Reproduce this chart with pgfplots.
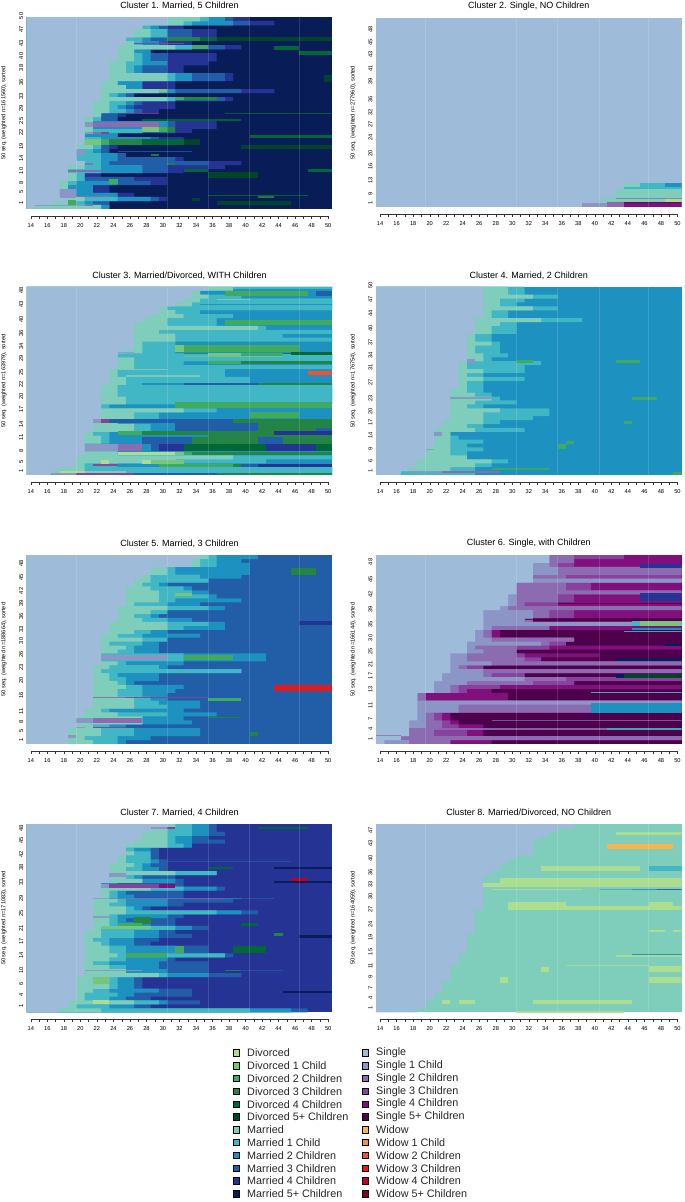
\documentclass[border=0pt]{standalone}
\usepackage{fontspec}
\setmainfont{Liberation Sans}
\usepackage{pgfplots}
\usepackage{pgfplotstable}
\pgfplotsset{compat=1.18}
\definecolor{cS}{HTML}{9EBCDA}\definecolor{cS1}{HTML}{8C96C6}\definecolor{cS2}{HTML}{8C6BB1}\definecolor{cS3}{HTML}{88419D}\definecolor{cS4}{HTML}{810F7C}\definecolor{cS5}{HTML}{4D004B}
\definecolor{cM}{HTML}{7FCDBB}\definecolor{cM1}{HTML}{41B6C4}\definecolor{cM2}{HTML}{1D91C0}\definecolor{cM3}{HTML}{225EA8}\definecolor{cM4}{HTML}{253494}\definecolor{cM5}{HTML}{081D58}
\definecolor{cD}{HTML}{ADDD8E}\definecolor{cD1}{HTML}{78C679}\definecolor{cD2}{HTML}{41AB5D}\definecolor{cD3}{HTML}{238443}\definecolor{cD4}{HTML}{006837}\definecolor{cD5}{HTML}{004529}
\definecolor{cW}{HTML}{FEB24C}\definecolor{cW1}{HTML}{FD8D3C}\definecolor{cW2}{HTML}{FC4E2A}\definecolor{cW3}{HTML}{E31A1C}\definecolor{cW4}{HTML}{BD0026}\definecolor{cW5}{HTML}{800026}
\newcommand\ticfont{\fontsize{5.7}{6}\selectfont}
\pgfplotstableread{
r S M M1 M2 M3 M4
48 30 34 35 37 38 40
47 30 32 33 38 40 43
46 27 27 28 29 30 32
45 26 28 30 30 33 36
44 26 28 30 30 33 36
43 25 25 27 28 30 30
42 25 26 27 29 30 33
41 24 31 33 33 37 39
40 24 26 26 28 28 28
39 24 26 27 28 30 36
38 24 26 27 28 30 36
37 23 25 27 30 30 35
36 23 25 26 27 30 32
35 23 25 26 27 30 32
34 23 30 31 33 37 38
33 23 30 31 33 37 38
32 22 24 24 27 27 31
31 22 25 25 27 27 31
30 22 29 30 31 39 43
29 22 23 24 25 26 26
28 22 30 31 31 37 38
27 21 23 25 26 27 31
26 21 23 24 25 26 31
25 21 23 25 26 27 29
24 21 22 22 22 24 25
23 20 21 22 22 24 24
22 20 21 21 30 31 36
21 20 21 21 30 31 36
20 20 21 27 27 31 33
19 20 20 20 24 24 24
18 20 20 22 28 29 32
17 20 20 20 20 20 20
16 19 21 22 22 23 24
15 19 19 21 22 23 23
14 19 19 22 24 25 25
13 19 19 22 24 31 32
12 20 20 22 23 35 39
11 18 20 22 27 30 37
10 18 18 22 27 30 32
9 18 19 20 20 20 22
8 18 19 20 20 26 30
7 17 18 19 24 28 30
6 17 18 18 21 21 23
5 17 17 17 21 21 23
4 17 17 17 24 24 26
3 18 20 24 28 29 30
2 16 18 20 21 23 23
1 14 22 22 23 23 23
}\tA
\pgfplotstableread{
r S M M1
48 35 38 50
47 33 34 34
46 33 35 39
45 32 34 50
44 31 33 50
43 29 30 50
42 29 31 34
41 28 32 38
40 27 30 36
39 26 30 36
38 26 41 42
37 26 29 50
36 26 31 44
35 26 31 50
34 26 27 31
33 26 27 31
32 25 27 31
31 24 24 50
30 24 26 50
29 24 26 32
28 24 26 50
27 23 24 37
26 23 24 37
25 23 25 40
24 23 25 40
23 22 24 50
22 22 24 50
21 22 24 50
20 22 25 50
19 22 25 50
18 22 22 23
17 22 32 36
16 22 26 29
15 22 26 29
14 21 24 24
13 21 26 28
12 21 26 28
11 20 21 23
10 20 22 23
9 20 22 23
8 20 20 20
7 20 20 20
6 20 24 24
5 19 38 50
4 19 31 42
3 19 20 24
2 17 20 50
1 16 25 50
}\tC
\pgfplotstableread{
r S M M1
48 26 29 31
47 26 29 31
46 26 32 35
45 26 28 31
44 26 28 30
43 26 32 35
42 26 27 29
41 26 27 29
40 25 33 38
39 25 28 30
38 25 27 30
37 25 27 30
36 24 25 27
35 24 25 27
34 24 27 28
33 24 25 28
32 24 25 28
31 24 26 29
30 24 26 27
29 23 24 33
28 23 24 31
27 23 26 31
26 23 24 26
25 23 26 31
24 23 24 26
23 23 24 26
22 22 24 26
21 22 25 27
20 22 27 28
19 22 25 30
18 22 24 26
17 22 28 34
16 22 26 34
15 22 26 32
14 21 26 28
13 21 24 26
12 20 25 31
11 20 22 22
10 20 22 23
9 20 22 26
8 20 22 24
7 19 22 26
6 19 22 24
5 19 24 24
4 18 27 29
3 18 25 27
2 17 22 25
1 16 16 25
}\tD
\pgfplotstableread{
r S M M1 M2
48 34 35 36 41
47 33 34 36 39
46 33 34 36 40
45 28 30 31 40
44 28 30 31 40
43 27 28 34 39
42 26 28 35 35
41 26 27 29 30
40 25 28 32 33
39 25 29 33 35
38 25 29 35 36
37 25 29 31 39
36 25 26 30 34
35 24 30 35 37
34 24 28 30 30
33 24 26 28 29
32 24 27 30 33
31 23 30 35 37
30 23 30 32 37
29 23 26 28 30
28 22 24 27 34
27 22 27 30 30
26 22 23 27 29
25 22 25 26 29
24 22 24 26 29
23 22 22 32 42
22 22 22 32 42
21 22 24 25 32
20 21 23 29 30
19 21 22 39 39
18 21 23 24 29
17 21 23 25 29
16 21 24 25 26
15 21 25 27 32
14 21 24 27 31
13 21 24 27 30
12 21 26 28 30
11 21 26 29 34
10 21 26 30 34
9 20 22 23 32
8 20 24 30 36
7 19 27 27 32
6 19 27 27 33
5 19 21 23 25
4 18 22 26 34
3 18 22 26 34
2 18 20 24 28
1 18 21 24 25
}\tE
\pgfplotstableread{
r S S1 S2 S3 S4
48 34 34 37 43 50
47 34 34 37 37 50
46 32 34 35 37 50
45 32 35 50 50 50
44 32 35 50 50 50
43 32 32 36 50 50
42 32 50 50 50 50
41 30 30 36 39 50
40 30 30 36 39 50
39 30 30 50 50 50
38 29 30 35 37 50
37 29 30 35 37 50
36 29 30 31 35 50
35 28 29 50 50 50
34 26 32 34 37 50
33 26 32 34 37 50
32 26 31 32 32 32
31 26 50 50 50 50
30 26 27 34 34 50
29 25 26 27 27 28
28 25 26 27 27 28
27 25 27 37 37 37
26 24 33 34 36 36
25 24 25 30 34 50
24 24 26 30 30 30
23 22 24 30 31 40
22 22 24 31 33 33
21 22 27 50 50 50
20 22 23 24 26 26
19 22 26 50 50 50
18 21 26 27 31 31
17 21 31 36 50 50
16 20 24 32 37 37
15 20 22 23 28 50
14 20 22 23 24 27
13 18 18 19 19 29
12 18 18 19 19 29
11 18 50 50 50 50
10 18 23 50 50 50
9 18 23 50 50 50
8 18 19 20 21 22
7 18 19 20 21 22
6 17 19 21 22 23
5 17 19 21 23 26
4 17 17 20 24 26
3 17 17 20 24 26
2 16 16 50 50 50
1 14 17 22 22 27
}\tF
\pgfplotstableread{
r S M M1 M2 M3
48 30 31 33 35 36
47 28 30 33 35 36
46 27 30 33 35 37
45 27 30 31 33 35
44 26 30 31 33 37
43 25 30 32 33 33
42 25 25 26 28 29
41 25 26 28 28 29
40 24 25 28 28 29
39 24 25 28 29 30
38 23 26 27 28 30
37 23 25 27 29 30
36 23 31 36 36 36
35 23 25 26 27 31
34 23 27 27 31 32
33 22 22 22 24 32
32 22 28 32 36 37
31 22 23 24 25 32
30 22 23 24 26 32
29 21 24 25 30 38
28 21 23 25 30 32
27 21 25 26 27 28
26 21 25 36 39 41
25 21 23 24 30 32
24 21 23 24 25 31
23 21 23 24 28 31
22 21 22 31 33 35
21 20 22 26 29 31
20 20 22 26 29 33
19 20 21 23 26 29
18 20 22 23 26 28
17 20 23 25 31 35
16 20 23 25 31 35
15 20 24 37 37 38
14 20 23 25 30 31
13 20 21 23 29 35
12 20 23 25 29 35
11 20 25 25 30 35
10 20 29 30 35 39
9 19 23 24 26 27
8 19 23 24 26 27
7 19 23 24 26 27
6 19 21 23 29 33
5 19 20 24 26 33
4 19 20 23 25 28
3 18 26 29 30 34
2 18 19 23 26 28
1 17 22 40 45 47
}\tG
\pgfplotstableread{
r S
48 37
47 35
46 34
45 33
44 32
43 32
42 32
41 32
40 30
39 29
38 28
37 28
36 27
35 26
34 26
33 26
32 26
31 26
30 26
29 26
28 26
27 26
26 25
25 25
24 25
23 25
22 25
21 25
20 24
19 24
18 24
17 24
16 24
15 23
14 23
13 23
12 22
11 22
10 22
9 22
8 21
7 21
6 21
5 20
4 20
3 19
2 19
1 18
}\tH
\newcommand\bars[2]{\pgfplotsinvokeforeach{#2}{\addplot[forget plot,xbar,bar shift=0pt,bar width=\barw,draw=none,fill=c##1] table[x expr=\thisrow{##1}+0.5,y expr=\pbot-(\thisrow{r}-0.5)*\rowh]{#1};}}
\newcommand\seg[5]{\pgfmathsetmacro\segop{min(1,0.45+#5*0.3)}\edef\segdo{\noexpand\addplot[forget plot,no marks,line cap=butt,line width=#5pt,color=c#1,opacity=\segop] coordinates {(#2,#4)(#3,#4)};}\segdo}
\newcommand\seams{\addplot[forget plot,no marks,white,opacity=.14,line width=.6pt] coordinates {(19.5,\ptop)(19.5,\pbot)};
\addplot[forget plot,no marks,white,opacity=.14,line width=.6pt] coordinates {(30.5,\ptop)(30.5,\pbot)};
\addplot[forget plot,no marks,white,opacity=.14,line width=.6pt] coordinates {(35.5,\ptop)(35.5,\pbot)};
\addplot[forget plot,no marks,white,opacity=.14,line width=.6pt] coordinates {(40.5,\ptop)(40.5,\pbot)};
\addplot[forget plot,no marks,white,opacity=.14,line width=.6pt] coordinates {(46.5,\ptop)(46.5,\pbot)};}
\pgfplotsset{seq/.style={scale only axis,width=305.6pt,anchor=south west,
 xmin=13.5,xmax=50.5,y dir=reverse,
 axis line style={draw=none},
 xtick=\empty,ytick pos=left,
 major tick length=3pt,
 y tick style={draw=none},
 yticklabel style={font=\ticfont,rotate=90,anchor=south,xshift=3pt},
 title style={font=\fontsize{9}{10}\selectfont,yshift=-2pt},
 every axis y label/.style={at={(axis description cs:-0.0745,0.5)},rotate=90,anchor=center,font=\ticfont},
}}
% the age scale under a panel: #1 left edge, #2 bottom of the panel
\newcommand\agescale[2]{\pgfmathsetmacro\scy{#2-7}\edef\scdo{\noexpand\begin{axis}[scale only axis,width=305.6pt,height=1pt,anchor=south west,at={(#1pt,\scy pt)},
 xmin=13.5,xmax=50.5,ymin=0,ymax=1,hide y axis,axis x line*=bottom,x axis line style={draw=none},clip=false,
 xtick={14,16,...,50},minor xtick={15,17,...,49},tick align=outside,
 major tick length=3.2pt,minor tick length=3.2pt,
 x tick style={black!80,line width=.35pt},minor x tick style={black!80,line width=.35pt},
 xticklabel style={font=\noexpand\ticfont},xticklabel shift=0.6pt,
 /pgf/number format/assume math mode=true]}\scdo
\addplot[forget plot,no marks,black!80,line width=.35pt] coordinates {(14,0)(50,0)};
\end{axis}}
\newcommand\leg[4]{\fill[c#3,draw=black,line width=.6pt] (#1pt,{1202pt-(1053+#2*12.8)*1pt-3.2pt}) rectangle ++(6.4pt,6.4pt);
\node[anchor=west,inner sep=0,font=\fontsize{10.8}{12}\selectfont,text=black!85] at ({#1pt+14pt},{1202pt-(1053+#2*12.8)*1pt}) {#4};}
\begin{document}
\begin{tikzpicture}
\path[use as bounding box] (0,0) rectangle (685pt,1202pt);
% ---------- Cluster 1
\def\ptop{52}\def\pbot{627}\def\rowh{11.98}\def\barw{4.1pt}
\begin{axis}[seq,at={(26.7pt,993pt)},height=191.7pt,ymin=52,ymax=627,axis background/.style={fill=cM5},
 title={Cluster 1. Married, 5 Children},ylabel={50 seq. (weighted n=161560), sorted},
 ytick={57,98,140,177,213,256,298,335,372,407,448,484,522,557,585,617},
 yticklabels={50,47,43,40,38,36,33,29,25,22,19,14,10,8,5,1}]
\bars{\tA}{M4,M3,M2,M1,M,S}
\seg{D3}{30.5}{34.5}{118}{4}\seg{D4}{34.5}{36.5}{118}{4}\seg{D5}{36.5}{50.5}{118}{4}
\seg{S3}{26.5}{32.5}{131}{1.5}
\seg{D2}{33.5}{35.5}{142}{4}\seg{D4}{43.5}{46.5}{145}{4}\seg{D4}{46.5}{50.5}{160}{4}
\seg{D5}{49.5}{50.5}{236}{6.5}\seg{D1}{29.5}{30.5}{271}{3.5}
\seg{D2}{31.5}{32.5}{296}{3}\seg{D3}{32.5}{36.5}{296}{3}
\seg{S3}{25.5}{29.5}{341}{1}\seg{D4}{37.5}{50.5}{341}{1}\seg{D4}{27.5}{39.5}{360}{1.5}
\seg{S1}{20.5}{21.5}{373}{5.5}\seg{S2}{21.5}{29.5}{373}{5.5}
\seg{D1}{27.5}{29.5}{388}{4.5}\seg{D2}{29.5}{30.5}{388}{4.5}\seg{D3}{30.5}{31.5}{388}{4.5}
\seg{S1}{20.5}{21.5}{400}{2}\seg{S2}{21.5}{22.5}{400}{2}\seg{S3}{22.5}{23.5}{400}{2}
\seg{D4}{40.5}{50.5}{409}{3}
\seg{D1}{20.5}{22.5}{425}{6}\seg{D2}{22.5}{23.5}{425}{6}\seg{D3}{23.5}{27.5}{425}{6}\seg{D4}{27.5}{32.5}{425}{6}\seg{D5}{32.5}{34.5}{425}{6}
\seg{D5}{39.5}{50.5}{441}{4.5}
\seg{S1}{19.5}{20.5}{457}{5}\seg{M3}{24.5}{33.5}{456}{1}\seg{D3}{28.5}{29.5}{465}{1.5}
\seg{S2}{20.5}{21.5}{492}{1.5}\seg{D3}{30.5}{31.5}{492}{1.5}
\seg{S2}{18.5}{22.5}{512}{2}\seg{D4}{32.5}{35.5}{512}{2.5}\seg{D4}{47.5}{50.5}{512}{2.5}
\seg{D5}{35.5}{41.5}{525}{5.5}\seg{D2}{23.5}{24.5}{544}{5}
\seg{S1}{17.5}{19.5}{580}{9}\seg{D4}{35.5}{47.5}{587}{1.5}\seg{D3}{41.5}{43.5}{591}{1.5}
\seg{S2}{19.5}{23.5}{590}{1.5}\seg{D5}{33.5}{34.5}{599}{3}
\seg{D2}{18.5}{19.5}{607}{4.5}\seg{D5}{36.5}{45.5}{608}{4}
\seg{S1}{14.5}{20.5}{617}{1.5}\seg{S2}{20.5}{21.5}{617}{1.5}
\seams
\end{axis}
\agescale{26.7}{993}
% ---------- Cluster 2
\def\ptop{-336}\def\pbot{230}
\begin{axis}[seq,at={(376pt,995pt)},height=188.7pt,ymin=-336,ymax=230,axis background/.style={fill=cS},
 title={Cluster 2. Single, NO Children},ylabel={50 seq. (weighted n=277960), sorted},
 ytick={-293,-255,-218,-177,-138,-83,-45,-8,30,78,118,160,200,227},
 yticklabels={48,45,43,41,39,36,32,27,24,20,16,13,9,1}]
\seg{M}{43.5}{45.5}{164}{4}\seg{M1}{45.5}{48.5}{164}{4}\seg{M2}{48.5}{50.5}{164}{4}
\seg{M1}{43.5}{50.5}{174}{2.5}\seg{M}{42.5}{50.5}{187}{8}
\seg{M}{41.5}{50.5}{200}{2}\seg{S2}{42.5}{50.5}{204}{1}
\seg{M}{40.5}{48.5}{210}{3}\seg{D}{48.5}{50.5}{211}{3.5}
\seg{S3}{41.5}{43.5}{217}{1}\seg{S5}{43.5}{50.5}{217}{1.5}
\seg{S1}{38.5}{41.5}{223}{4}\seg{S2}{41.5}{43.5}{223}{4}\seg{S4}{43.5}{50.5}{223}{4}
\seams
\end{axis}
\agescale{376}{995}
% ---------- Cluster 3
\def\ptop{65}\def\pbot{630}\def\rowh{11.77}\def\barw{4pt}
\begin{axis}[seq,at={(26.7pt,727pt)},height=188.3pt,ymin=65,ymax=630,axis background/.style={fill=cM2},
 title={Cluster 3. Married/Divorced, WITH Children},ylabel={50 seq. (weighted n=163979), sorted},
 ytick={85,128,172,213,252,290,330,368,403,441,488,527,568,600,627},
 yticklabels={48,43,40,36,34,29,25,22,20,17,14,11,8,5,1}]
\bars{\tC}{M1,M,S}
\seg{M2}{38.5}{50.5}{75}{1.5}
\seg{D2}{37.5}{47.5}{86}{5}\seg{M3}{48.5}{50.5}{86}{5}\seg{M}{36.5}{40.5}{103}{1.5}
\seg{M2}{34.5}{50.5}{119}{1.5}\seg{D2}{37.5}{50.5}{172}{5.5}
\seg{D1}{31.5}{32.5}{250}{7}\seg{D2}{32.5}{46.5}{250}{7}
\seg{S1}{24.5}{26.5}{262}{1}\seg{D3}{32.5}{38.5}{264}{1}\seg{D4}{38.5}{46.5}{264}{1}
\seg{D1}{35.5}{39.5}{269}{3.5}\seg{D2}{39.5}{44.5}{269}{3}\seg{D4}{45.5}{50.5}{265}{3.5}\seg{D1}{32.5}{44.5}{273}{1}
\seg{D2}{35.5}{39.5}{292}{3}\seg{D3}{39.5}{50.5}{292}{3}
\seg{W2}{47.5}{50.5}{324}{4}\seg{M}{24.5}{30.5}{314}{1.5}\seg{M}{25.5}{34.5}{333}{1.5}
\seg{M2}{27.5}{32.5}{357}{2.5}\seg{M3}{32.5}{41.5}{357}{2.5}\seg{D3}{41.5}{50.5}{357}{2.5}
\seg{D2}{31.5}{50.5}{420}{5.5}\seg{D2}{40.5}{46.5}{451}{6}
\seg{D3}{38.5}{50.5}{467}{4}\seg{S1}{21.5}{22.5}{467}{4}\seg{S3}{22.5}{23.5}{467}{4}\seg{M3}{23.5}{38.5}{467}{4}
\seg{M3}{31.5}{41.5}{487}{8}\seg{D3}{41.5}{50.5}{487}{8}\seg{M3}{48.5}{50.5}{492}{3}
\seg{D2}{24.5}{27.5}{505}{4}\seg{D3}{27.5}{43.5}{505}{4}\seg{M4}{43.5}{50.5}{505}{4}
\seg{D3}{35.5}{50.5}{513}{1.5}
\seg{M3}{27.5}{33.5}{527}{7}\seg{D3}{33.5}{41.5}{527}{7}\seg{M3}{41.5}{44.5}{527}{7}\seg{D3}{44.5}{50.5}{527}{7}
\seg{S1}{20.5}{24.5}{547}{6.7}\seg{S2}{24.5}{27.5}{547}{6.7}\seg{M2}{27.5}{28.5}{547}{6.7}\seg{M3}{28.5}{29.5}{547}{6.7}\seg{M4}{29.5}{32.5}{547}{6.7}\seg{D4}{32.5}{42.5}{547}{6.7}\seg{M4}{42.5}{48.5}{547}{6.7}\seg{D4}{48.5}{50.5}{547}{6.7}
\seg{D}{24.5}{31.5}{567}{3}\seg{D1}{31.5}{32.5}{567}{3}\seg{D2}{32.5}{33.5}{567}{3}\seg{D3}{33.5}{50.5}{567}{3}
\seg{D}{22.5}{23.5}{590}{4}\seg{D}{27.5}{28.5}{590}{4}\seg{D1}{28.5}{32.5}{590}{4}
\seg{S3}{21.5}{24.5}{600}{1.5}\seg{D2}{29.5}{38.5}{602}{3.5}\seg{D3}{38.5}{39.5}{602}{3.5}\seg{M3}{39.5}{41.5}{602}{3.5}\seg{M4}{41.5}{50.5}{602}{3.5}
\seg{D}{17.5}{20.5}{620}{2}
\seg{S1}{16.5}{19.5}{626}{2}\seg{S3}{19.5}{26.5}{626}{2}\seg{M3}{26.5}{36.5}{626}{2}\seg{D3}{36.5}{50.5}{626}{2}
\seams
\end{axis}
\agescale{26.7}{727}
% ---------- Cluster 4
\begin{axis}[seq,at={(376pt,727pt)},height=188.3pt,ymin=65,ymax=630,axis background/.style={fill=cM2},
 title={Cluster 4. Married, 2 Children},ylabel={50 seq. (weighted n=176754), sorted},
 ytick={70,112,153,200,240,279,315,360,408,447,481,520,562,598,627},
 yticklabels={50,47,44,40,37,34,31,27,23,20,17,14,9,6,1}]
\bars{\tD}{M1,M,S}
\seg{S1}{24.5}{25.5}{288}{3.5}\seg{D2}{30.5}{32.5}{289}{3.5}\seg{D2}{42.5}{45.5}{289}{3.5}
\seg{S1}{22.5}{27.5}{400}{2}\seg{D2}{44.5}{47.5}{400}{3.5}\seg{D2}{43.5}{44.5}{473}{3}
\seg{S1}{20.5}{21.5}{507}{3.5}\seg{D2}{36.5}{37.5}{533}{3.5}\seg{D2}{35.5}{36.5}{545}{4.5}
\seg{S1}{19.5}{20.5}{553}{1}\seg{D2}{27.5}{34.5}{612}{1.5}
\seg{S1}{17.5}{21.5}{620}{2}\seg{S2}{21.5}{28.5}{620}{2}\seg{D2}{49.5}{50.5}{627}{3}
\seams
\end{axis}
\agescale{376}{727}
% ---------- Cluster 5
\def\ptop{60}\def\pbot{627}\def\rowh{11.81}\def\barw{4pt}
\begin{axis}[seq,at={(26.7pt,458pt)},height=189pt,ymin=60,ymax=627,axis background/.style={fill=cM3},
 title={Cluster 5. Married, 3 Children},ylabel={50 seq. (weighted n=188664), sorted},
 ytick={95,137,177,215,254,292,327,367,406,445,490,538,570,596,625},
 yticklabels={48,45,42,39,36,33,30,26,23,20,16,11,8,5,1}]
\bars{\tE}{M2,M1,M,S}
\seg{D3}{45.5}{48.5}{109}{7}\seg{D1}{31.5}{33.5}{178}{3.5}\seg{M4}{46.5}{50.5}{264}{3.5}
\seg{S1}{22.5}{30.5}{368}{5}\seg{D2}{32.5}{38.5}{368}{5}\seg{W3}{43.5}{50.5}{459}{6.4}
\seg{S2}{21.5}{25.5}{487}{1.5}\seg{S3}{25.5}{35.5}{487}{1.5}\seg{D2}{35.5}{39.5}{493}{2.5}\seg{D3}{35.5}{39.5}{548}{1.5}
\seg{S1}{19.5}{21.5}{557}{5}\seg{S2}{21.5}{27.5}{557}{5}
\seg{S1}{19.5}{20.5}{578}{1.5}\seg{S3}{21.5}{25.5}{578}{1.5}
\seg{D3}{40.5}{41.5}{596}{4}\seg{S1}{18.5}{19.5}{605}{2.5}
\seams
\end{axis}
\agescale{26.7}{458}
% ---------- Cluster 6
\begin{axis}[seq,at={(376pt,458pt)},height=189pt,ymin=60,ymax=627,axis background/.style={fill=cS5},
 title={Cluster 6. Single, with Children},ylabel={50 seq. (weighted n=166144), sorted},
 ytick={90,143,187,233,278,318,358,397,432,472,520,562,592,620},
 yticklabels={48,45,42,39,35,30,25,21,17,13,11,7,4,1}]
\bars{\tF}{S4,S3,S2,S1,S}
\seg{M4}{45.5}{50.5}{92}{4}\seg{M4}{45.5}{50.5}{187}{8}\seg{S5}{35.5}{50.5}{205}{1.5}\seg{S5}{31.5}{50.5}{255}{1}
\seg{M1}{44.5}{45.5}{267}{5}\seg{D1}{45.5}{50.5}{267}{5}\seg{M2}{44.5}{50.5}{283}{2}\seg{M1}{43.5}{50.5}{289}{1.5}
\seg{M5}{48.5}{50.5}{330}{2}\seg{M5}{42.5}{50.5}{373}{3.5}\seg{M5}{42.5}{43.5}{422}{4}\seg{D5}{43.5}{50.5}{422}{4}
\seg{M1}{39.5}{50.5}{473}{1.5}\seg{M2}{39.5}{50.5}{520}{10}
\seg{S2}{27.5}{50.5}{556}{1}\seg{S2}{17.5}{41.5}{582}{1.5}\seg{M1}{41.5}{50.5}{582}{1.5}\seg{S2}{13.5}{16.5}{601}{1}
\seams
\end{axis}
\agescale{376}{458}
% ---------- Cluster 7
\def\ptop{72}\def\pbot{637}\def\rowh{11.77}\def\barw{4pt}
\begin{axis}[seq,at={(26.7pt,189.7pt)},height=188.3pt,ymin=72,ymax=637,axis background/.style={fill=cM4},
 title={Cluster 7. Married, 4 Children},ylabel={50 seq. (weighted n=171083), sorted},
 ytick={95,130,172,212,257,305,350,395,433,475,520,560,595,628},
 yticklabels={48,45,42,38,33,29,25,21,17,14,10,6,4,1}]
\bars{\tG}{M3,M2,M1,M,S}
\seg{S1}{28.5}{30.5}{85}{2}\seg{S3}{30.5}{31.5}{85}{2}\seg{D4}{41.5}{47.5}{85}{2}
\seg{M3}{30.5}{45.5}{184}{1}\seg{D4}{35.5}{38.5}{204}{2.5}\seg{M5}{43.5}{50.5}{204}{2}
\seg{S1}{23.5}{25.5}{226}{4}\seg{W4}{45.5}{47.5}{238}{3.5}\seg{M5}{43.5}{50.5}{246}{2}
\seg{S1}{22.5}{23.5}{258}{4}\seg{S3}{23.5}{29.5}{258}{4}\seg{S4}{29.5}{31.5}{258}{4}
\seg{S1}{21.5}{23.5}{295}{1}\seg{S2}{23.5}{37.5}{295}{1}\seg{M2}{37.5}{39.5}{295}{1}\seg{M3}{39.5}{43.5}{295}{1}
\seg{S1}{21.5}{23.5}{351}{1.5}\seg{D3}{26.5}{28.5}{362}{7}\seg{D2}{24.5}{27.5}{373}{2.5}\seg{D4}{39.5}{41.5}{373}{2.5}
\seg{D1}{22.5}{28.5}{382}{3.5}\seg{D3}{43.5}{44.5}{403}{2.5}\seg{M5}{46.5}{50.5}{410}{2.5}
\seg{D2}{31.5}{32.5}{449}{7}\seg{D4}{38.5}{42.5}{448}{7}\seg{D2}{25.5}{30.5}{465}{3.5}
\seg{S1}{20.5}{27.5}{512}{1.5}\seg{D3}{37.5}{39.5}{512}{1.5}\seg{M3}{39.5}{44.5}{512}{1}
\seg{D1}{21.5}{23.5}{542}{7}\seg{M5}{44.5}{50.5}{576}{2}\seg{D}{21.5}{23.5}{607}{4}
\seams
\end{axis}
\agescale{26.7}{189.7}
% ---------- Cluster 8
\begin{axis}[seq,at={(376pt,189.7pt)},height=188.3pt,ymin=72,ymax=637,axis background/.style={fill=cM},
 title={Cluster 8. Married/Divorced, NO Children},ylabel={50 seq. (weighted n=164059), sorted},
 ytick={100,140,185,226,262,298,338,383,422,465,507,540,572,604,634},
 yticklabels={47,43,40,36,33,30,27,24,19,15,11,9,7,4,1}]
\bars{\tH}{S}
\seg{D}{42.5}{50.5}{100}{3}\seg{W}{41.5}{49.5}{140}{5}
\seg{D}{33.5}{45.5}{206}{4.5}\seg{M1}{46.5}{50.5}{206}{4.5}
\seg{D}{28.5}{50.5}{248}{8.5}\seg{D}{26.5}{28.5}{255}{3.5}
\seg{D}{27.5}{38.5}{268}{1.5}\seg{M1}{40.5}{44.5}{268}{1.5}\seg{M2}{44.5}{47.5}{268}{1.5}\seg{M3}{47.5}{50.5}{268}{1.5}
\seg{D}{29.5}{36.5}{318}{8}\seg{D}{36.5}{46.5}{325}{4}\seg{D}{46.5}{49.5}{318}{8}\seg{D}{49.5}{50.5}{325}{4}
\seg{D}{46.5}{48.5}{392}{2}\seg{D}{49.5}{50.5}{392}{2}
\seg{D}{42.5}{50.5}{468}{1.5}\seg{M2}{44.5}{50.5}{463}{1.5}
\seg{D}{36.5}{46.5}{498}{1}\seg{D}{46.5}{50.5}{506}{6}\seg{D}{33.5}{34.5}{508}{4.5}
\seg{D}{28.5}{29.5}{540}{6}\seg{D}{46.5}{50.5}{540}{6}
\seg{D}{21.5}{22.5}{605}{4}\seg{D}{23.5}{25.5}{605}{4}\seg{D}{32.5}{44.5}{605}{4}\seg{D}{30.5}{43.5}{636}{1.5}
\seams
\end{axis}
\agescale{376}{189.7}
% ---------- Legend
\leg{233}{0}{D}{Divorced}\leg{233}{1}{D1}{Divorced 1 Child}\leg{233}{2}{D2}{Divorced 2 Children}\leg{233}{3}{D3}{Divorced 3 Children}\leg{233}{4}{D4}{Divorced 4 Children}\leg{233}{5}{D5}{Divorced 5+ Children}
\leg{233}{6}{M}{Married}\leg{233}{7}{M1}{Married 1 Child}\leg{233}{8}{M2}{Married 2 Children}\leg{233}{9}{M3}{Married 3 Children}\leg{233}{10}{M4}{Married 4 Children}\leg{233}{11}{M5}{Married 5+ Children}
\leg{362}{0}{S}{Single}\leg{362}{1}{S1}{Single 1 Child}\leg{362}{2}{S2}{Single 2 Children}\leg{362}{3}{S3}{Single 3 Children}\leg{362}{4}{S4}{Single 4 Children}\leg{362}{5}{S5}{Single 5+ Children}
\leg{362}{6}{W}{Widow}\leg{362}{7}{W1}{Widow 1 Child}\leg{362}{8}{W2}{Widow 2 Children}\leg{362}{9}{W3}{Widow 3 Children}\leg{362}{10}{W4}{Widow 4 Children}\leg{362}{11}{W5}{Widow 5+ Children}
\end{tikzpicture}
\end{document}
